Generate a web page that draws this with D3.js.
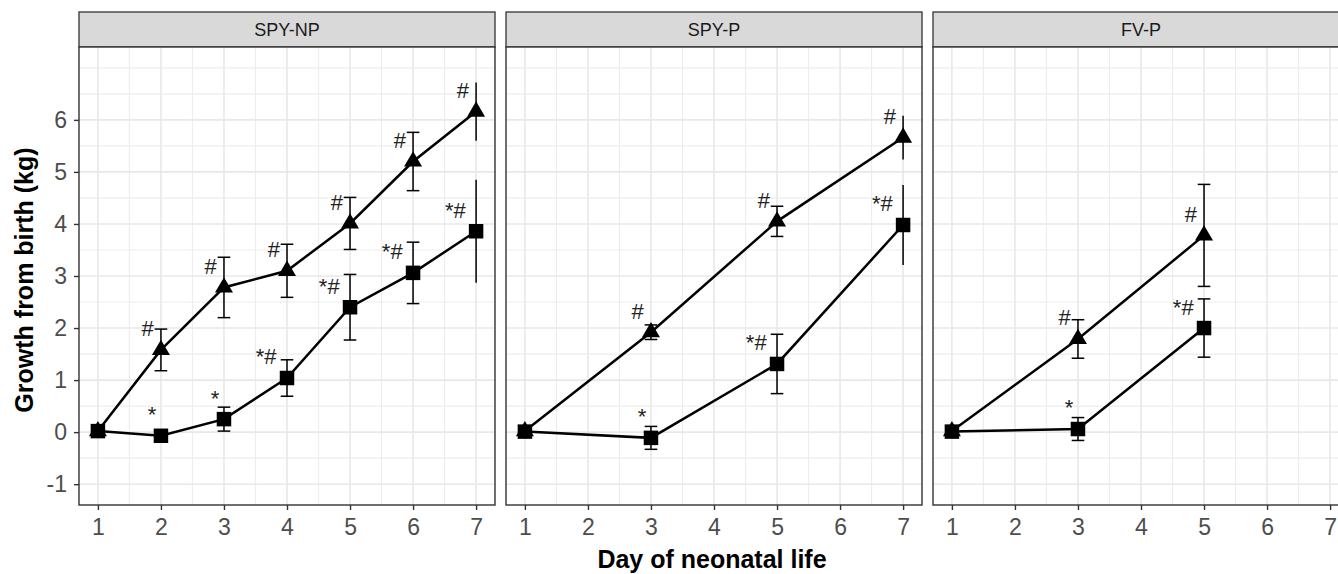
<!DOCTYPE html>
<html>
<head>
<meta charset="utf-8">
<script src="https://cdn.jsdelivr.net/npm/d3@7"></script>
<style>
  body { margin: 0; background: #fff; }
  text { font-family: "Liberation Sans", Arial, sans-serif; }
</style>
</head>
<body>
<script>
// Data
//= ================================
var panelNames = ["SPY-NP", "SPY-P", "FV-P"];

var npDays = [1, 2, 3, 4, 5, 6, 7];
var npTriMean = [0.02, 1.58, 2.78, 3.10, 4.01, 5.20, 6.16];
var npTriSe = [0, 0.40, 0.58, 0.51, 0.50, 0.56, 0.56];
var npTriLab = ["", "#", "#", "#", "#", "#", "#"];
var npSqMean = [0.02, -0.07, 0.25, 1.04, 2.40, 3.06, 3.86];
var npSqSe = [0, 0.04, 0.23, 0.35, 0.63, 0.59, 0.99];
var npSqLab = ["", "*", "*", "*#", "*#", "*#", "*#"];

var pDays = [1, 3, 5, 7];
var pTriMean = [0.02, 1.92, 4.05, 5.66];
var pTriSe = [0, 0.14, 0.29, 0.42];
var pTriLab = ["", "#", "#", "#"];
var pSqMean = [0.01, -0.11, 1.31, 3.98];
var pSqSe = [0, 0.22, 0.57, 0.77];
var pSqLab = ["", "*", "*#", "*#"];

var fvDays = [1, 3, 5];
var fvTriMean = [0.02, 1.79, 3.78];
var fvTriSe = [0, 0.37, 0.98];
var fvTriLab = ["", "#", "#"];
var fvSqMean = [0.01, 0.06, 2.00];
var fvSqSe = [0, 0.22, 0.56];
var fvSqLab = ["", "*", "*#"];

var xTicks = [1, 2, 3, 4, 5, 6, 7];
var yTicks = [-1, 0, 1, 2, 3, 4, 5, 6];
var xLimits = [1, 7];
var yLimits = [-1, 7];

function makeSeries(days, mean, se, labs, shape) {
  return days.map(function(d, i) {
    return { day: d, mean: mean[i], se: se[i], lab: labs[i], shape: shape };
  });
}

var panels = [
  { name: panelNames[0], series: [makeSeries(npDays, npTriMean, npTriSe, npTriLab, "tri"),
                                  makeSeries(npDays, npSqMean, npSqSe, npSqLab, "sq")] },
  { name: panelNames[1], series: [makeSeries(pDays, pTriMean, pTriSe, pTriLab, "tri"),
                                  makeSeries(pDays, pSqMean, pSqSe, pSqLab, "sq")] },
  { name: panelNames[2], series: [makeSeries(fvDays, fvTriMean, fvTriSe, fvTriLab, "tri"),
                                  makeSeries(fvDays, fvSqMean, fvSqSe, fvSqLab, "sq")] }
];

// Chart parameters
//= ================================
var svgWidth = 1338;
var svgHeight = 574;
var panelLeft = 79;
var panelWidth = 416;
var panelGap = 11;
var stripTop = 12;
var stripHeight = 35;
var panelTop = stripTop + stripHeight;
var panelHeight = 458;
var capWidth = 0.2;

var svg = d3.select("body").append("svg")
  .attr("width", svgWidth)
  .attr("height", svgHeight);

// 5% expansion, like ggplot
var xPad = (xLimits[1] - xLimits[0]) * 0.05;
var yPad = (yLimits[1] - yLimits[0]) * 0.05;
var xScale = d3.scaleLinear()
  .domain([xLimits[0] - xPad, xLimits[1] + xPad])
  .range([0, panelWidth]);
var yScale = d3.scaleLinear()
  .domain([yLimits[0] - yPad, yLimits[1] + yPad])
  .range([panelHeight, 0]);

var xMinor = d3.range(0.5, 8, 0.5).filter(function(v) {
  return v % 1 !== 0 && v > xScale.domain()[0] && v < xScale.domain()[1];
});
var yMinor = d3.range(-1.5, 8, 0.5).filter(function(v) {
  return yTicks.indexOf(v) < 0 && v > yScale.domain()[0] && v < yScale.domain()[1];
});

// triangle like R pch 17 (centred on centroid)
var triangle = {
  draw: function(ctx, size) {
    var w = Math.sqrt(size), h = w * 0.85;
    ctx.moveTo(0, -h * 2 / 3);
    ctx.lineTo(w / 2, h / 3);
    ctx.lineTo(-w / 2, h / 3);
    ctx.closePath();
  }
};
var triSym = d3.symbol().type(triangle).size(18 * 18);
var sqSym = d3.symbol().type(d3.symbolSquare).size(14.5 * 14.5);

var labDx = { "#": -0.21, "*": -0.14, "*#": -0.33 };
var plainNum = function(d) { return String(d); };  // keeps the "-1" hyphen

var line = d3.line()
  .x(function(d) { return xScale(d.day); })
  .y(function(d) { return yScale(d.mean); });

panels.forEach(function(p, i) {
  var g = svg.append("g")
    .attr("transform", "translate(" + (panelLeft + i * (panelWidth + panelGap)) + "," + panelTop + ")");

  // strip
  g.append("rect")
    .attr("x", 0).attr("y", -stripHeight)
    .attr("width", panelWidth).attr("height", stripHeight)
    .attr("fill", "#d9d9d9").attr("stroke", "#333").attr("stroke-width", 1.3);
  g.append("text")
    .attr("x", panelWidth / 2).attr("y", -stripHeight / 2)
    .attr("text-anchor", "middle").attr("dy", "0.36em")
    .attr("font-size", 18).attr("fill", "#1a1a1a")
    .text(p.name);

  // panel background and grid
  g.append("rect")
    .attr("width", panelWidth).attr("height", panelHeight)
    .attr("fill", "#fff");

  g.selectAll(".xminor").data(xMinor).enter().append("line")
    .attr("x1", xScale).attr("x2", xScale)
    .attr("y1", 0).attr("y2", panelHeight)
    .attr("stroke", "#ededed").attr("stroke-width", 1.2);
  g.selectAll(".yminor").data(yMinor).enter().append("line")
    .attr("y1", yScale).attr("y2", yScale)
    .attr("x1", 0).attr("x2", panelWidth)
    .attr("stroke", "#ededed").attr("stroke-width", 1.2);
  g.selectAll(".xmajor").data(xTicks).enter().append("line")
    .attr("x1", xScale).attr("x2", xScale)
    .attr("y1", 0).attr("y2", panelHeight)
    .attr("stroke", "#e8e8e8").attr("stroke-width", 1.6);
  g.selectAll(".ymajor").data(yTicks).enter().append("line")
    .attr("y1", yScale).attr("y2", yScale)
    .attr("x1", 0).attr("x2", panelWidth)
    .attr("stroke", "#e8e8e8").attr("stroke-width", 1.6);

  p.series.forEach(function(s) {
    g.append("path")
      .attr("d", line(s))
      .attr("fill", "none").attr("stroke", "#000").attr("stroke-width", 2.5);

    // error bars; caps outside the x limits get dropped
    s.forEach(function(d) {
      if (d.se <= 0) return;
      g.append("line")
        .attr("x1", xScale(d.day)).attr("x2", xScale(d.day))
        .attr("y1", yScale(d.mean - d.se)).attr("y2", yScale(d.mean + d.se))
        .attr("stroke", "#000").attr("stroke-width", 1.5);
      if (d.day - capWidth / 2 >= xLimits[0] && d.day + capWidth / 2 <= xLimits[1]) {
        [d.mean - d.se, d.mean + d.se].forEach(function(v) {
          g.append("line")
            .attr("x1", xScale(d.day - capWidth / 2)).attr("x2", xScale(d.day + capWidth / 2))
            .attr("y1", yScale(v)).attr("y2", yScale(v))
            .attr("stroke", "#000").attr("stroke-width", 1.5);
        });
      }
    });
  });

  // points: squares first so the day-1 triangles sit under them like the original
  p.series.slice().reverse().forEach(function(s) {
    g.selectAll(null).data(s).enter().append("path")
      .attr("transform", function(d) { return "translate(" + xScale(d.day) + "," + yScale(d.mean) + ")"; })
      .attr("d", s[0].shape === "tri" ? triSym : sqSym)
      .attr("fill", "#000");
  });

  p.series.forEach(function(s) {
    g.selectAll(null).data(s.filter(function(d) { return d.lab; })).enter().append("text")
      .attr("x", function(d) { return xScale(d.day + labDx[d.lab]); })
      .attr("y", function(d) { return yScale(d.mean + 0.26); })
      .attr("text-anchor", "middle")
      .attr("font-size", 22).attr("fill", "#222")
      .text(function(d) { return d.lab; });
  });

  // x axis
  var xAxisG = g.append("g")
    .attr("transform", "translate(0," + panelHeight + ")")
    .call(d3.axisBottom(xScale).tickValues(xTicks).tickSize(5).tickPadding(9).tickFormat(plainNum));
  xAxisG.select(".domain").remove();
  xAxisG.selectAll("line").attr("stroke", "#333").attr("stroke-width", 1.4);
  xAxisG.selectAll("text").attr("font-size", 23).attr("fill", "#4d4d4d")
    .attr("font-family", "Liberation Sans, Arial, sans-serif");

  if (i === 0) {
    var yAxisG = g.append("g")
      .call(d3.axisLeft(yScale).tickValues(yTicks).tickSize(5).tickPadding(7).tickFormat(plainNum));
    yAxisG.select(".domain").remove();
    yAxisG.selectAll("line").attr("stroke", "#333").attr("stroke-width", 1.4);
    yAxisG.selectAll("text").attr("font-size", 23).attr("fill", "#4d4d4d")
      .attr("font-family", "Liberation Sans, Arial, sans-serif");
  }

  // panel border
  g.append("rect")
    .attr("width", panelWidth).attr("height", panelHeight)
    .attr("fill", "none").attr("stroke", "#333").attr("stroke-width", 1.4);
});

// axis titles
svg.append("text")
  .attr("x", panelLeft + (3 * panelWidth + 2 * panelGap) / 2 - 2)
  .attr("y", 568)
  .attr("text-anchor", "middle")
  .attr("font-size", 25).attr("font-weight", "bold").attr("fill", "#000")
  .text("Day of neonatal life");

svg.append("text")
  .attr("transform", "translate(33," + (panelTop + panelHeight / 2 + 4) + ") rotate(-90)")
  .attr("text-anchor", "middle")
  .attr("font-size", 25).attr("font-weight", "bold").attr("fill", "#000")
  .text("Growth from birth (kg)");
</script>
</body>
</html>
